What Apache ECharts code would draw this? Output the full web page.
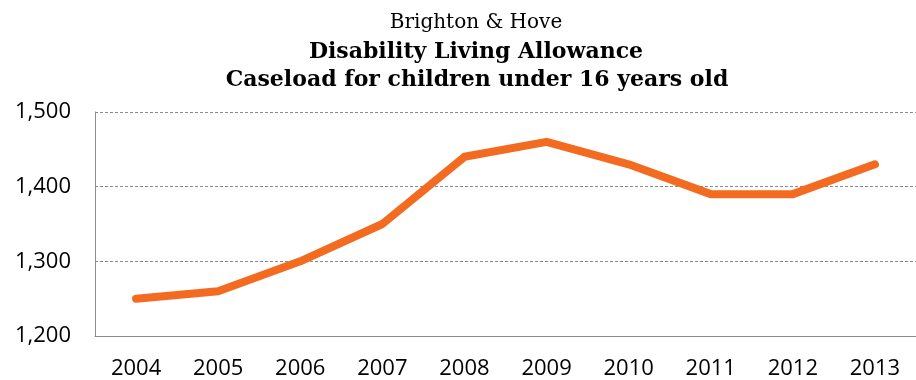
<!DOCTYPE html>
<html>
<head>
<meta charset="utf-8">
<script src="https://cdn.jsdelivr.net/npm/echarts@6/dist/echarts.min.js"></script>
<style>
  html, body { margin: 0; padding: 0; background: #fff; }
  #chart { width: 916px; height: 380px; }
</style>
</head>
<body>
<div id="chart"></div>
<script>
// Disability Living Allowance caseload, children under 16, Brighton & Hove
const years = ['2004', '2005', '2006', '2007', '2008', '2009', '2010', '2011', '2012', '2013'];
const caseload = [1250, 1260, 1300, 1350, 1440, 1460, 1430, 1390, 1390, 1430];
const yTicks = { min: 1200, max: 1500, interval: 100 };

const chart = echarts.init(document.getElementById('chart'), null, { renderer: 'canvas' });

const serif = '"DejaVu Serif", "Liberation Serif", serif';
const sans = '"Open Sans", "Liberation Sans", sans-serif';

chart.setOption({
  backgroundColor: '#ffffff',
  animation: false,
  title: [
    { text: 'Brighton & Hove', left: 471, textAlign: 'center', top: 8,
      textStyle: { fontFamily: serif, fontWeight: 'normal', fontSize: 20, color: '#000' } },
    { text: 'Disability Living Allowance', left: 471, textAlign: 'center', top: 36,
      textStyle: { fontFamily: serif, fontWeight: 'bold', fontSize: 22, color: '#000' } },
    { text: 'Caseload for children under 16 years old', left: 472, textAlign: 'center', top: 64,
      textStyle: { fontFamily: serif, fontWeight: 'bold', fontSize: 22, color: '#000' } }
  ],
  // the plot runs slightly past the right edge of the canvas
  grid: { left: 95, width: 826, top: 112, bottom: 44, containLabel: false },
  xAxis: {
    type: 'category',
    data: years,
    boundaryGap: true,
    axisLine: { show: true, lineStyle: { color: '#8c8c8c', width: 1 } },
    axisTick: { show: false },
    axisLabel: { fontFamily: sans, fontSize: 22, color: '#000', margin: 22 }
  },
  yAxis: {
    type: 'value',
    min: yTicks.min, max: yTicks.max, interval: yTicks.interval,
    axisLine: { show: true, lineStyle: { color: '#8c8c8c', width: 1 } },
    axisTick: { show: false },
    axisLabel: {
      fontFamily: sans, fontSize: 22, color: '#000', margin: 24,
      formatter: v => v.toLocaleString('en-US')
    },
    splitLine: { show: true, lineStyle: { color: '#8c8c8c', type: [3, 2], width: 1 } }
  },
  series: [{
    type: 'line',
    data: caseload,
    symbol: 'none',
    lineStyle: { color: '#F26B21', width: 8, cap: 'round', join: 'round' }
  }]
});
</script>
</body>
</html>
